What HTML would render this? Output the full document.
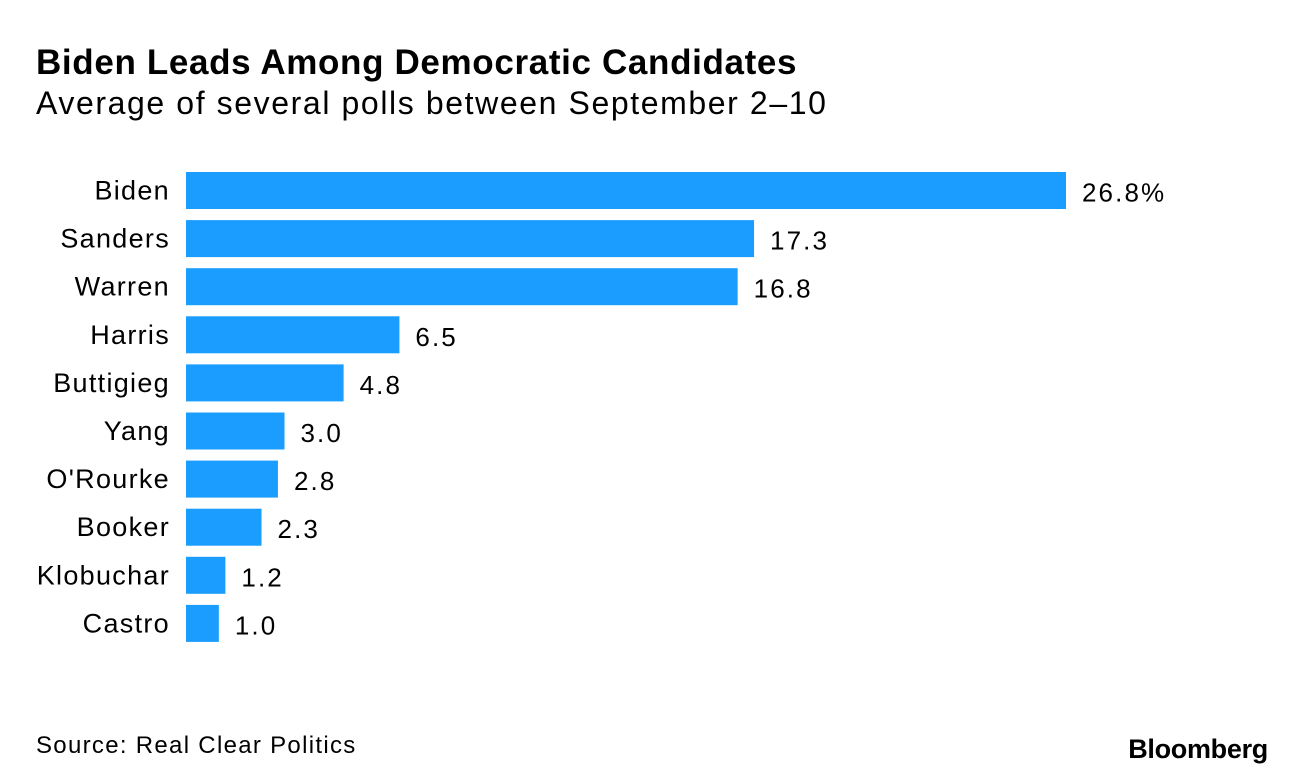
<!DOCTYPE html>
<html><head><meta charset="utf-8"><style>
body{margin:0;width:1296px;height:776px;background:#fff;font-family:"Liberation Sans",Arial,sans-serif;color:#000;overflow:hidden;position:relative}
.t{position:absolute;white-space:nowrap}
</style></head><body>
<div class="t" style="left:36px;top:43px;font-size:35px;font-weight:bold;letter-spacing:0.65px">Biden Leads Among Democratic Candidates</div>
<div class="t" style="left:36px;top:85px;font-size:32px;letter-spacing:1.6px">Average of several polls between September 2–10</div>
<svg id="chart" width="1296" height="776" style="position:absolute;left:0;top:0"></svg>
<div class="t" style="left:36px;top:732px;font-size:24px;letter-spacing:1.3px">Source: Real Clear Politics</div>
<div class="t" style="right:28px;top:734px;font-size:27px;font-weight:bold;letter-spacing:-0.3px">Bloomberg</div>
<script>
const categories=["Biden","Sanders","Warren","Harris","Buttigieg","Yang","O'Rourke","Booker","Klobuchar","Castro"];
const values=[26.8,17.3,16.8,6.5,4.8,3.0,2.8,2.3,1.2,1.0];
const valueLabels=["26.8%","17.3","16.8","6.5","4.8","3.0","2.8","2.3","1.2","1.0"];
const svg=document.getElementById('chart');
const NS='http://www.w3.org/2000/svg';
const x0=186,scale=880/26.8,y0=172,step=48.1,bh=37;
const xs=v=>x0+v*scale;
const ys=i=>y0+i*step;
categories.forEach((c,i)=>{
  const r=document.createElementNS(NS,'rect');
  r.setAttribute('x',x0);r.setAttribute('y',ys(i));
  r.setAttribute('width',xs(values[i])-x0);r.setAttribute('height',bh);
  r.setAttribute('fill','#1a9dff');
  
  
  svg.appendChild(r);
  const l=document.createElementNS(NS,'text');
  l.setAttribute('x',170);l.setAttribute('y',ys(i)+bh/2+9);
  l.setAttribute('text-anchor','end');l.setAttribute('font-size','27');
  l.setAttribute('letter-spacing','1.3');
  l.setAttribute('font-family','Liberation Sans, Arial, sans-serif');
  l.textContent=c;
  
  
  svg.appendChild(l);
  const v=document.createElementNS(NS,'text');
  v.setAttribute('x',xs(values[i])+16);v.setAttribute('y',ys(i)+bh/2+11);
  v.setAttribute('font-size','26');
  v.setAttribute('letter-spacing','2.1');
  v.setAttribute('font-family','Liberation Sans, Arial, sans-serif');
  v.textContent=valueLabels[i];
  
  
  svg.appendChild(v);
});
</script>
</body></html>
